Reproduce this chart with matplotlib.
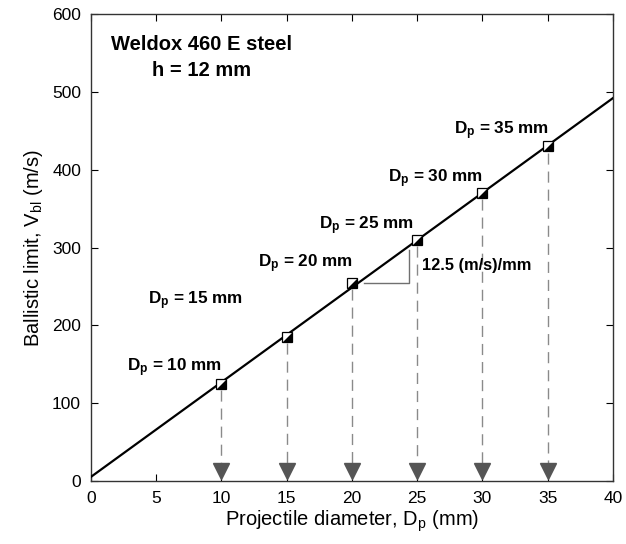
import matplotlib.pyplot as plt
from matplotlib.path import Path

plt.rcParams['font.family'] = ['Liberation Sans', 'DejaVu Sans']
plt.rcParams['mathtext.fontset'] = 'custom'
plt.rcParams['mathtext.rm'] = 'Liberation Sans'
plt.rcParams['mathtext.it'] = 'Liberation Sans'
plt.rcParams['mathtext.bf'] = 'Liberation Sans:bold'

# Projectile diameters (mm) and ballistic limits (m/s)
diameters = [10, 15, 20, 25, 30, 35]
v_bl = [125, 185, 255, 310, 370, 430]

# Fitted line
fit_d = [0, 40]
fit_v = [5, 492]

# Label anchor points (x, y in data units)
label_x = [2.8, 4.4, 12.8, 17.5, 22.8, 27.8]
label_y = [146, 232, 279, 328, 388, 450]

# Slope triangle
slope_h_x = [20.9, 24.4]
slope_v_y = [255, 297]
arrow_y = 13

fig = plt.figure(figsize=(6.26, 5.44), dpi=100)
ax = fig.add_axes([0.145, 0.116, 0.834, 0.858])

ax.plot(fit_d, fit_v, color='black', lw=1.6, zorder=3)

# dashed drops to the x axis with arrow heads
for d, v in zip(diameters, v_bl):
    ax.plot([d, d], [v - 8, arrow_y + 8], color='#8a8a8a', lw=1.0,
            dashes=(8, 5), zorder=1)
ax.plot(diameters, [arrow_y] * len(diameters), linestyle='none', marker='v',
        ms=11, mfc='#555555', mec='#555555', zorder=2, clip_on=False)

# half-filled square markers
tri = Path([(0.5, 0.5), (0.5, -0.5), (-0.5, -0.5), (0.5, 0.5)],
           [Path.MOVETO, Path.LINETO, Path.LINETO, Path.CLOSEPOLY])
ax.plot(diameters, v_bl, linestyle='none', marker='s', ms=7.5, mfc='white',
        mec='none', zorder=4)
ax.plot(diameters, v_bl, linestyle='none', marker=tri, ms=7.5, mfc='black',
        mec='none', zorder=5)
ax.plot(diameters, v_bl, linestyle='none', marker='s', ms=7.5, mfc='none',
        mec='black', mew=0.9, zorder=6)

# slope triangle
ax.plot([slope_h_x[0], slope_h_x[1], slope_h_x[1]],
        [slope_v_y[0], slope_v_y[0], slope_v_y[1]], color='#707070', lw=1.0,
        zorder=2)
ax.text(25.4, 277, '12.5 (m/s)/mm', fontsize=11.8, fontweight='bold',
        ha='left', va='center')

for d, lx, ly in zip(diameters, label_x, label_y):
    ax.text(lx, ly, r'$\mathbf{D_p}$' + f' = {d} mm', fontsize=12.3,
            fontweight='bold', ha='left', va='center')

ax.text(8.5, 561, 'Weldox 460 E steel', fontsize=14.5, fontweight='bold',
        ha='center', va='center')
ax.text(8.5, 527, 'h = 12 mm', fontsize=14.5, fontweight='bold',
        ha='center', va='center')

ax.set_xlim(0, 40)
ax.set_ylim(0, 600)
ax.set_xticks(range(0, 41, 5))
ax.set_yticks(range(0, 601, 100))
ax.tick_params(direction='in', top=True, right=True, length=5, labelsize=12.5,
               pad=7)
for s in ax.spines.values():
    s.set_linewidth(1.0)
    s.set_color('#333333')

ax.set_xlabel(r'Projectile diameter, D$_{\mathrm{p}}$ (mm)', fontsize=14.5,
              labelpad=2)
ax.set_ylabel(r'Ballistic limit, V$_{\mathrm{bl}}$ (m/s)', fontsize=14.5,
              labelpad=5)

fig.savefig('out.png', dpi=100)
